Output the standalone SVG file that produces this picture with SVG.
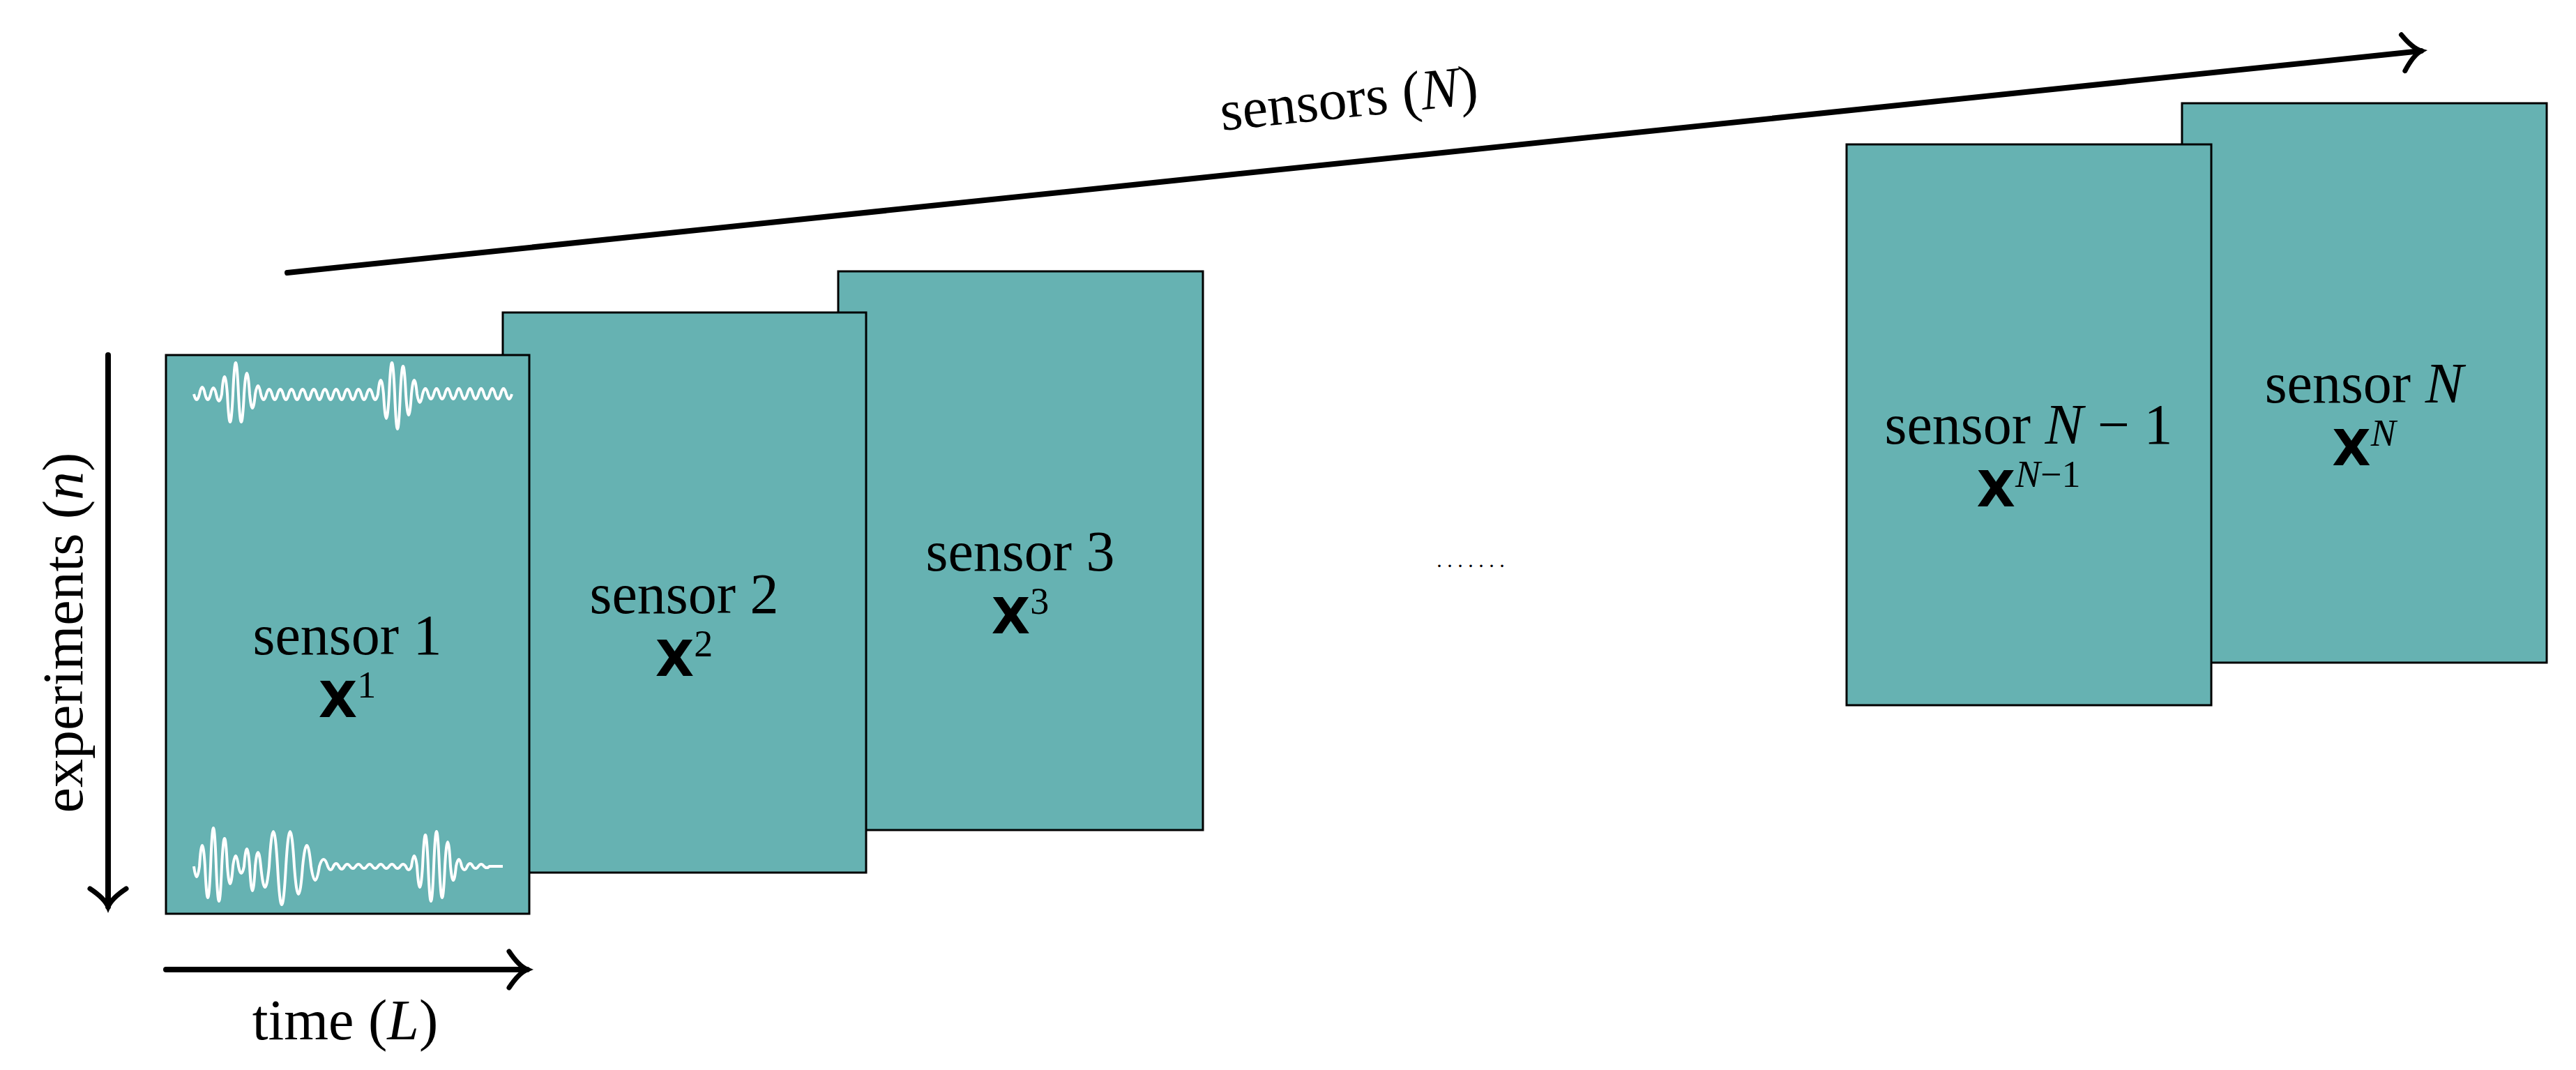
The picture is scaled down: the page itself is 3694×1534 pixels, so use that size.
<svg xmlns="http://www.w3.org/2000/svg" width="3694" height="1534" viewBox="0 0 3694 1534">
<style>
.box{fill:#66b2b2;stroke:#000;stroke-width:3}
.t{font-family:"Liberation Serif",serif;font-size:82px;fill:#000;text-anchor:middle}
.b{font-family:"DejaVu Sans",sans-serif;font-weight:bold;font-size:72px}
.sup{font-family:"Liberation Serif",serif;font-size:54px;font-weight:normal}
.i{font-style:italic}
.ax{stroke:#000;stroke-width:8;fill:none;stroke-linecap:round}
.wave{stroke:#fff;stroke-width:4;fill:none}
</style>
<defs>
<marker id="ah" viewBox="-34 -30 44 60" markerWidth="44" markerHeight="60" refX="0" refY="0" orient="auto" markerUnits="userSpaceOnUse">
<path d="M-26,-26 Q-12,-5 0,0 Q-12,5 -26,26" fill="none" stroke="#000" stroke-width="7" stroke-linecap="round"/>
</marker>
</defs>
<g id="connectors">
<line class="ax" x1="412" y1="391" x2="3472" y2="73" marker-end="url(#ah)"/>
<line class="ax" x1="155" y1="509" x2="155" y2="1300" marker-end="url(#ah)"/>
<line class="ax" x1="238" y1="1390" x2="756" y2="1390" marker-end="url(#ah)"/>
</g>
<text class="t" transform="translate(1937,168) rotate(-5.9)">sensors (<tspan class="i">N</tspan>)</text>
<text class="t" transform="translate(90,907) rotate(-90)" dy="28">experiments (<tspan class="i">n</tspan>)</text>
<text class="t" x="495" y="1490">time (<tspan class="i">L</tspan>)</text>
<text class="t" x="2109" y="813" style="font-size:30px">. . . . . . .</text>
<g id="sensorN">
<rect class="box" x="3129" y="148" width="523" height="802"/>
<text class="t" x="3390" y="577">sensor <tspan class="i">N</tspan></text>
<text class="t" x="3390" y="667"><tspan class="b">X</tspan><tspan class="sup i" dy="-28">N</tspan></text>
</g>
<g id="sensorN1">
<rect class="box" x="2648" y="207" width="523" height="804"/>
<text class="t" x="2909" y="636">sensor <tspan class="i">N</tspan> − 1</text>
<text class="t" x="2909" y="726"><tspan class="b">X</tspan><tspan class="sup" dy="-28"><tspan class="i">N</tspan>−1</tspan></text>
</g>
<g id="sensor3">
<rect class="box" x="1202" y="389" width="523" height="801"/>
<text class="t" x="1463" y="818">sensor 3</text>
<text class="t" x="1463" y="908"><tspan class="b">X</tspan><tspan class="sup" dy="-28">3</tspan></text>
</g>
<g id="sensor2">
<rect class="box" x="721" y="448" width="521" height="803"/>
<text class="t" x="981" y="879">sensor 2</text>
<text class="t" x="981" y="969"><tspan class="b">X</tspan><tspan class="sup" dy="-28">2</tspan></text>
</g>
<g id="sensor1">
<rect class="box" x="238" y="509" width="521" height="801"/>
<text class="t" x="498" y="938">sensor 1</text>
<text class="t" x="498" y="1028"><tspan class="b">X</tspan><tspan class="sup" dy="-28">1</tspan></text>
<path class="wave" d="M278,565 q4,16 8,0 q4,-20 8,0 q4,16 8,0 q4,-18 8,0 q4,20 8,0 q4,-50 8,0 q4,80 8,0 q4,-90 8,0 q4,80 8,0 q4,-60 8,0 q4,40 8,0 q4,-24 8,0 q4,16 8,0 q4,-14 8,0 q4,16 8,0 q4,-14 8,0 q4,16 8,0 q4,-14 8,0 q4,16 8,0 q4,-14 8,0 q4,16 8,0 q4,-14 8,0 q4,16 8,0 q4,-14 8,0 q4,16 8,0 q4,-14 8,0 q4,16 8,0 q4,-14 8,0 q4,16 8,0 q4,-14 8,0 q4,16 8,0 q4,-14 8,0 q4,16 8,0 q4,-40 8,0 q4,70 8,0 q4,-90 8,0 q4,100 8,0 q4,-80 8,0 q4,60 8,0 q4,-40 8,0 q4,24 8,0 q4,-16 8,0 q4,14 8,0 q4,-16 8,0 q4,14 8,0 q4,-16 8,0 q4,14 8,0 q4,-16 8,0 q4,14 8,0 q4,-16 8,0 q4,14 8,0 q4,-16 8,0 q4,14 8,0 q4,-16 8,0 q4,14 8,0 q4,-16 8,0 q4,14 8,0"/>
<path class="wave" d="M278,1242 q4,30 8,0 q4,-60 8,0 q4,90 8,0 q4,-110 8,0 q4,100 8,0 q4,-80 8,0 q4,50 8,0 q4,-30 8,0 q4,20 8,0 q4,-50 8,0 q4,70 8,0 q4,-40 8,0 q6,60 12,0 q6,-100 12,0 q6,110 12,0 q6,-100 12,0 q6,80 12,0 q6,-60 12,0 q6,40 12,0 q6,-20 12,0 q4,10 8,0 q4,-8 8,0 q4,8 8,0 q4,-6 8,0 q4,6 8,0 q4,-6 8,0 q4,6 8,0 q4,-6 8,0 q4,6 8,0 q4,-6 8,0 q4,6 8,0 q4,-6 8,0 q4,6 8,0 q4,-6 8,0 q4,10 8,0 q4,-30 8,0 q4,60 8,0 q4,-90 8,0 q4,100 8,0 q4,-100 8,0 q4,90 8,0 q4,-70 8,0 q4,40 8,0 q4,-20 8,0 q4,10 8,0 q4,-8 8,0 q4,6 8,0 q4,-6 8,0 q4,4 8,0 L721,1242"/>
</g>
</svg>
